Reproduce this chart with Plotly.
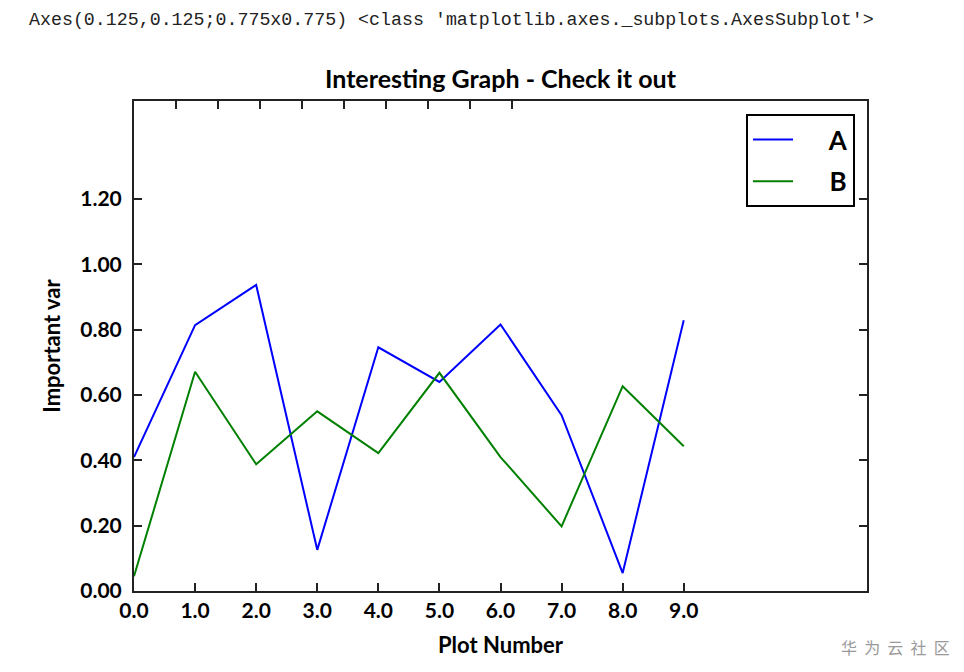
import plotly.graph_objects as go

x_vals = [0, 1, 2, 3, 4, 5, 6, 7, 8, 9]
series_a = [0.41, 0.814, 0.937, 0.126, 0.746, 0.640, 0.816, 0.538, 0.055, 0.829]
series_b = [0.045, 0.671, 0.388, 0.550, 0.422, 0.668, 0.410, 0.198, 0.627, 0.443]
y_ticks = [0.0, 0.2, 0.4, 0.6, 0.8, 1.0, 1.2]
top_ticks = [1, 2, 3, 4, 5, 6, 7, 8, 9]

NBSP = "\u00a0"
fig = go.Figure()
fig.add_trace(go.Scatter(x=x_vals, y=series_a, mode="lines", name=NBSP * 5 + "A",
                         line=dict(color="#0000ff", width=2), legendgroup="a"))
fig.add_trace(go.Scatter(x=x_vals, y=series_b, mode="lines", name=NBSP * 5 + "B",
                         line=dict(color="#008000", width=2), legendgroup="b"))
# invisible trace on the top axis to carry its ticks
fig.add_trace(go.Scatter(x=[], y=[], xaxis="x2", showlegend=False))

tick_font = dict(family="Lato", size=21, color="black", weight="bold")
fig.update_layout(
    width=964, height=672,
    margin=dict(l=134, r=97, t=101, b=81),
    paper_bgcolor="white", plot_bgcolor="white",
    title=dict(text="<b>Interesting Graph - Check it out</b>",
               font=dict(family="Lato", size=25, color="black"),
               x=0.5, xref="paper", xanchor="center",
               y=1 - 79 / 672, yref="container", yanchor="middle"),
    xaxis=dict(range=[0, 12], tickvals=x_vals, tickformat=".1f",
               ticks="inside", ticklen=8, tickwidth=1.5, tickcolor="#222",
               showline=True, linecolor="#222", linewidth=2, mirror=True,
               showgrid=False, zeroline=False,
               tickfont=tick_font,
               title=dict(text="<b>Plot Number</b>", standoff=16,
                          font=dict(family="Lato", size=22, color="black"))),
    xaxis2=dict(overlaying="x", side="top", range=[0, 733 / 42],
                tickvals=top_ticks, showticklabels=False,
                ticks="inside", ticklen=8, tickwidth=1.5, tickcolor="#222",
                showline=False, showgrid=False, zeroline=False),
    yaxis=dict(range=[0, 1.5], tickvals=y_ticks, tickformat=".2f",
               ticks="inside", ticklen=8, tickwidth=1.5, tickcolor="#222",
               showline=True, linecolor="#222", linewidth=2, mirror="ticks",
               showgrid=False, zeroline=False, ticklabelstandoff=6,
               tickfont=tick_font,
               title=dict(text="<b>Important var</b>", standoff=14,
                          font=dict(family="Lato", size=22, color="black"))),
    legend=dict(x=(855 - 134) / 733, xanchor="right",
                y=(591 - 114) / 490, yanchor="top",
                bgcolor="white", bordercolor="black", borderwidth=2,
                font=dict(family="Lato", size=26, color="black", weight="bold"),
                tracegroupgap=5, itemwidth=40),
    showlegend=True,
)

fig.add_annotation(text="Axes(0.125,0.125;0.775x0.775) &lt;class 'matplotlib.axes._subplots.AxesSubplot'&gt;",
                   xref="paper", yref="paper", x=(27 - 134) / 733, y=1 + (101 - 20) / 490,
                   xanchor="left", yanchor="middle", showarrow=False,
                   font=dict(family="Liberation Mono", size=18.3, color="#222"))
fig.add_annotation(text=("  ").join("华为云社区").replace(" ", NBSP),
                   xref="paper", yref="paper",
                   x=(952 - 134) / 733, y=-(647 - 591) / 490,
                   xanchor="right", yanchor="middle", showarrow=False,
                   font=dict(family="Noto Sans CJK SC", size=16, color="#9a9a9a"))

fig.write_html("out.html")
